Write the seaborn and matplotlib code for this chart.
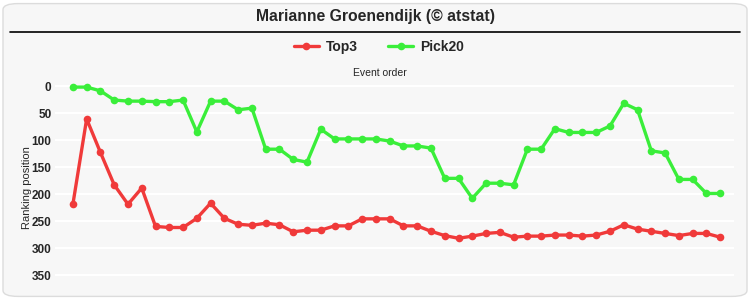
import numpy as np
import pandas as pd
import matplotlib
matplotlib.use("Agg")
import matplotlib.pyplot as plt
from matplotlib.patches import FancyBboxPatch
from matplotlib.lines import Line2D
import seaborn as sns

title = "Marianne Groenendijk (© atstat)"
series_names = ["Top3", "Pick20"]
top3 = [219, 61, 123, 183, 219, 189, 260, 262, 262, 245, 217, 245, 256, 258, 254, 257,
        270, 267, 267, 259, 259, 246, 246, 246, 259, 259, 269, 277, 282, 278, 273, 271,
        280, 278, 278, 276, 276, 278, 276, 269, 257, 265, 269, 273, 277, 273, 273, 280]
pick20 = [2, 2, 9, 26, 28, 28, 29, 29, 26, 85, 28, 28, 44, 41, 117, 117,
          136, 141, 80, 98, 98, 98, 98, 102, 111, 111, 115, 171, 171, 208, 180, 180,
          183, 117, 117, 79, 86, 86, 86, 74, 32, 44, 120, 124, 173, 173, 199, 199]
yticks = [0, 50, 100, 150, 200, 250, 300, 350]

colors = {"Top3": "#f03a3a", "Pick20": "#3aee3a"}
bg = "#f7f7f7"

n = len(top3)
df = pd.DataFrame({
    "event": list(range(n)) * 2,
    "rank": top3 + pick20,
    "series": [series_names[0]] * n + [series_names[1]] * n,
})

sns.set_theme(style="white")
plt.rcParams["font.family"] = ["Liberation Sans", "DejaVu Sans"]

fig = plt.figure(figsize=(7.5, 3.0), dpi=100)
fig.patch.set_facecolor("white")
border = FancyBboxPatch((0.004, 0.012), 0.992, 0.976, boxstyle="round,pad=0,rounding_size=0.02",
                        transform=fig.transFigure, facecolor=bg, edgecolor="#dcdcdc",
                        linewidth=1.0, zorder=-10)
fig.patches.append(border)

ax = fig.add_axes([0.0733, 0.0293, 0.9053, 0.6912])
ax.set_facecolor(bg)
sns.lineplot(data=df, x="event", y="rank", hue="series", palette=colors,
             marker="o", markersize=5.5, markeredgewidth=0, linewidth=2.4,
             ax=ax, legend=False, clip_on=False)

ax.set_xlim(-1.3, n)
ax.set_ylim(380, -4)
ax.set_yticks(yticks)
ax.set_yticklabels([str(t) for t in yticks], fontweight="bold", fontsize=8.5)
ax.set_xticks([])
ax.tick_params(axis="y", length=0, pad=2.5)
ax.grid(axis="y", color="white", linewidth=1.6)
ax.set_axisbelow(True)
for s in ax.spines.values():
    s.set_visible(False)
ax.set_xlabel("")
ax.set_ylabel("Ranking position", fontsize=8)
ax.yaxis.set_label_coords(-0.034, 0.5)

fig.text(0.5, 1 - 17 / 300, title, ha="center", va="center", fontsize=11.3, fontweight="bold")
fig.add_artist(Line2D([10 / 750, 740 / 750], [1 - 31.5 / 300] * 2, color="black", linewidth=1.2,
                      transform=fig.transFigure))
fig.text(380 / 750, 1 - 73 / 300, "Event order", ha="center", va="center", fontsize=7.5)

handles = [Line2D([0], [0], color=colors[s], linewidth=2.4, marker="o", markersize=5.5,
                  markeredgewidth=0) for s in series_names]
leg = fig.legend(handles, series_names, loc="center", bbox_to_anchor=(0.505, 1 - 47 / 300),
                 ncol=2, frameon=False, prop={"weight": "bold", "size": 10},
                 handlelength=1.8, columnspacing=2.2, handletextpad=0.5)

fig.savefig("out.png", dpi=100, facecolor="white")
